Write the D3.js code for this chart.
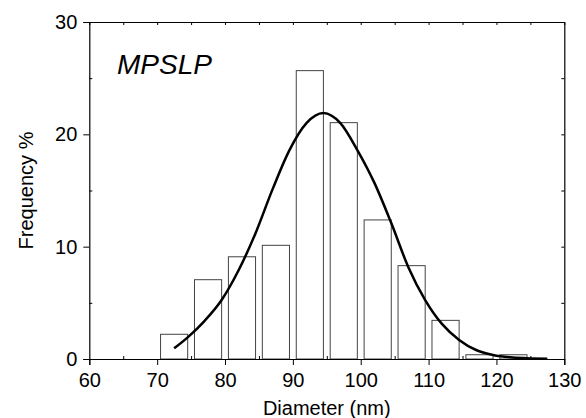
<!DOCTYPE html>
<html lang="en">
<head>
<meta charset="UTF-8"/>
<title>Diameter histogram</title>
<script src="https://d3js.org/d3.v7.min.js"></script>
<style>
	body { margin: 0; background: #fff; }
	text { font-family: "Liberation Sans", Arial, sans-serif; fill: #000; }
	.axis path { stroke: #000; stroke-width: 1.2px; }
	.axis line { stroke: #000; stroke-width: 1px; }
	.axis text { font-size: 20px; }
	.bar { fill: #fff; stroke: #444; stroke-width: 1px; }
	.fit { fill: none; stroke: #000; stroke-width: 2.5px; }
</style>
</head>
<body>
<div id="chart"></div>
<script>
	// histogram bins (lower edge, nm) and frequency in %
	var binStart = [70, 75, 80, 85, 90, 95, 100, 105, 110, 115, 120];
	var freq = [2.2, 7.06, 9.1, 10.12, 25.67, 21.04, 12.38, 8.31, 3.44, 0.38, 0.38];

	// fitted curve, points
	var fitX = [72.5, 74.5, 77, 79.5, 82, 84.5, 87, 89.5, 92, 94.5, 97, 99.5, 102, 104.5, 107, 109.5, 112, 114.5, 117, 119.5, 122, 124.5, 127.5];
	var fitY = [0.95, 1.93, 3.4, 5.25, 7.9, 11.2, 15.1, 18.6, 21.0, 21.9, 21.0, 18.6, 15.7, 12.1, 8.2, 5.25, 3.1, 1.7, 0.8, 0.36, 0.15, 0.07, 0.03];

	var xMajor = [60, 70, 80, 90, 100, 110, 120, 130];
	var xMinor = [65, 75, 85, 95, 105, 115, 125];
	var yMajor = [0, 10, 20, 30];
	var yMinor = [5, 15, 25];

	var w = 586, h = 418;
	var padL = 89.3, padR = 564.3, padT = 22, padB = 359;

	var svg = d3.select("#chart").append("svg")
		.attr("width", w)
		.attr("height", h);

	var x = d3.scaleLinear().domain([60, 130]).range([padL, padR]);
	var y = d3.scaleLinear().domain([0, 30]).range([padB, padT]);

	// bars: 4 nm wide inside each 5 nm bin
	var barW = x(4) - x(0);
	svg.selectAll(".bar")
		.data(binStart)
		.enter().append("rect")
		.attr("class", "bar")
		.attr("x", function(d) { return x(d + 2.5) - barW / 2; })
		.attr("y", function(d, i) { return y(freq[i]); })
		.attr("width", barW)
		.attr("height", function(d, i) { return y(0) - y(freq[i]); });

	var line = d3.line()
		.x(function(d) { return x(d); })
		.y(function(d, i) { return y(fitY[i]); })
		.curve(d3.curveMonotoneX);

	svg.append("path")
		.datum(fitX)
		.attr("class", "fit")
		.attr("d", line);

	// bottom axis: major outward, minor inward
	svg.append("g").attr("class", "axis")
		.attr("transform", "translate(0," + padB + ")")
		.call(d3.axisBottom(x).tickValues(xMajor).tickSize(6).tickPadding(8).tickFormat(d3.format("d")));
	svg.append("g").attr("class", "axis")
		.attr("transform", "translate(0," + padB + ")")
		.call(d3.axisBottom(x).tickValues(xMinor).tickSize(-3).tickFormat(""))
		.select(".domain").remove();

	// left axis
	svg.append("g").attr("class", "axis")
		.attr("transform", "translate(" + padL + ",0)")
		.call(d3.axisLeft(y).tickValues(yMajor).tickSize(6).tickPadding(6).tickFormat(d3.format("d")));
	svg.append("g").attr("class", "axis")
		.attr("transform", "translate(" + padL + ",0)")
		.call(d3.axisLeft(y).tickValues(yMinor).tickSize(-3).tickFormat(""))
		.select(".domain").remove();

	// top and right: inward ticks only
	svg.append("g").attr("class", "axis")
		.attr("transform", "translate(0," + padT + ")")
		.call(d3.axisTop(x).tickValues(xMajor.concat(xMinor)).tickSizeInner(-3).tickSizeOuter(0).tickFormat(""));
	svg.append("g").attr("class", "axis")
		.attr("transform", "translate(" + padR + ",0)")
		.call(d3.axisRight(y).tickValues(yMajor.concat(yMinor)).tickSizeInner(-3).tickSizeOuter(0).tickFormat(""));

	svg.append("text")
		.attr("x", (padL + padR) / 2)
		.attr("y", 415)
		.attr("text-anchor", "middle")
		.style("font-size", "20px")
		.text("Diameter (nm)");

	svg.append("text")
		.attr("transform", "translate(33," + (padT + padB) / 2 + ") rotate(-90)")
		.attr("text-anchor", "middle")
		.style("font-size", "20px")
		.text("Frequency %");

	svg.append("text")
		.attr("x", 117)
		.attr("y", 74)
		.style("font-size", "28px")
		.style("font-style", "italic")
		.text("MPSLP");
</script>
</body>
</html>
